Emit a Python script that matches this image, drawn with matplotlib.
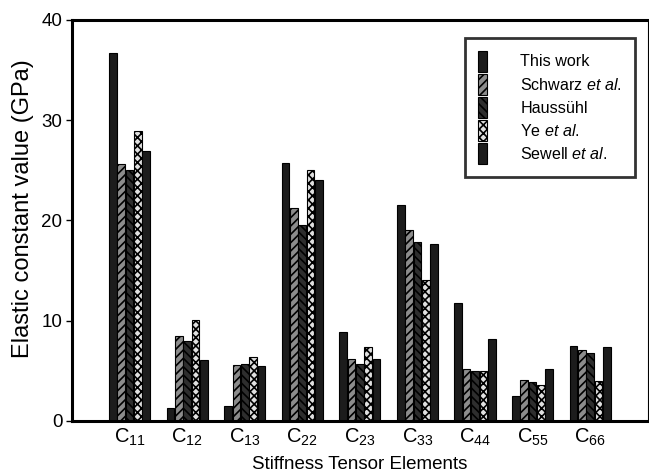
import matplotlib
matplotlib.use("Agg")
import matplotlib.pyplot as plt
import numpy as np

plt.rcParams['font.family'] = ['Liberation Sans', 'DejaVu Sans']
plt.rcParams['mathtext.fontset'] = 'custom'
plt.rcParams['mathtext.rm'] = 'Liberation Sans'
plt.rcParams['mathtext.it'] = 'Liberation Sans:italic'
plt.rcParams['mathtext.default'] = 'regular'
plt.rcParams['hatch.linewidth'] = 1.2

categories = ['C11', 'C12', 'C13', 'C22', 'C23', 'C33', 'C44', 'C55', 'C66']
this_work = [36.7, 1.3, 1.5, 25.7, 8.9, 21.5, 11.8, 2.5, 7.5]
schwarz   = [25.6, 8.5, 5.6, 21.2, 6.2, 19.0, 5.2, 4.1, 7.1]
haussuhl  = [25.0, 8.0, 5.7, 19.5, 5.7, 17.8, 5.0, 3.9, 6.8]
ye        = [28.9, 10.1, 6.4, 25.0, 7.4, 14.1, 5.0, 3.6, 4.0]
sewell    = [26.9, 6.1, 5.5, 24.0, 6.2, 17.6, 8.2, 5.2, 7.4]
series_labels = ['This work', r'Schwarz $\it{et\ al}$.', 'Haussühl',
                 r'Ye $\it{et\ al}$.', r'Sewell $\it{et\ al}$.']
yticks = [0, 10, 20, 30, 40]

series = [this_work, schwarz, haussuhl, ye, sewell]
styles = [
    dict(facecolor='#1c1c1c', hatch=None),
    dict(facecolor='#8c8c8c', hatch='////'),
    dict(facecolor='#2e2e2e', hatch='\\\\\\\\'),
    dict(facecolor='#e0e0e0', hatch='xxxx'),
    dict(facecolor='#1c1c1c', hatch=None),
]

fig = plt.figure(figsize=(6.49, 4.73), dpi=100)
ax = fig.add_axes([0.111, 0.11, 0.887, 0.848])

x = np.arange(len(categories))
w = 0.145
for i, (vals, st, lab) in enumerate(zip(series, styles, series_labels)):
    ax.bar(x + (i - 2) * w, vals, width=w * 0.92, facecolor=st['facecolor'],
           edgecolor='black', linewidth=0.8, hatch=st['hatch'], label=lab)

ax.set_xlim(-1, 9)
ax.set_ylim(0, 40)
ax.set_yticks(yticks)
ax.set_xticks(x)
ax.set_xticklabels([r'C$_{%s}$' % c[1:] for c in categories], fontsize=14.5)
ax.tick_params(axis='y', labelsize=13.5, direction='out', length=4, width=1, pad=3)
ax.tick_params(axis='x', length=0, pad=4)
ax.set_ylabel('Elastic constant value (GPa)', fontsize=17)
ax.yaxis.set_label_coords(-0.066, 0.53)
ax.set_xlabel('Stiffness Tensor Elements', fontsize=13.5, labelpad=6)

for s in ['left', 'bottom', 'top']:
    ax.spines[s].set_linewidth(2.2)
ax.spines['right'].set_linewidth(0.8)

leg = ax.legend(loc='upper right', bbox_to_anchor=(0.978, 0.955), fontsize=11.6,
                handlelength=0.56, handleheight=1.6, handletextpad=2.1,
                labelspacing=0.15, borderpad=0.8, borderaxespad=0,
                fancybox=False, frameon=True)
leg.get_frame().set_edgecolor('black')
leg.get_frame().set_linewidth(2.0)

fig.savefig('out.png', dpi=100)
